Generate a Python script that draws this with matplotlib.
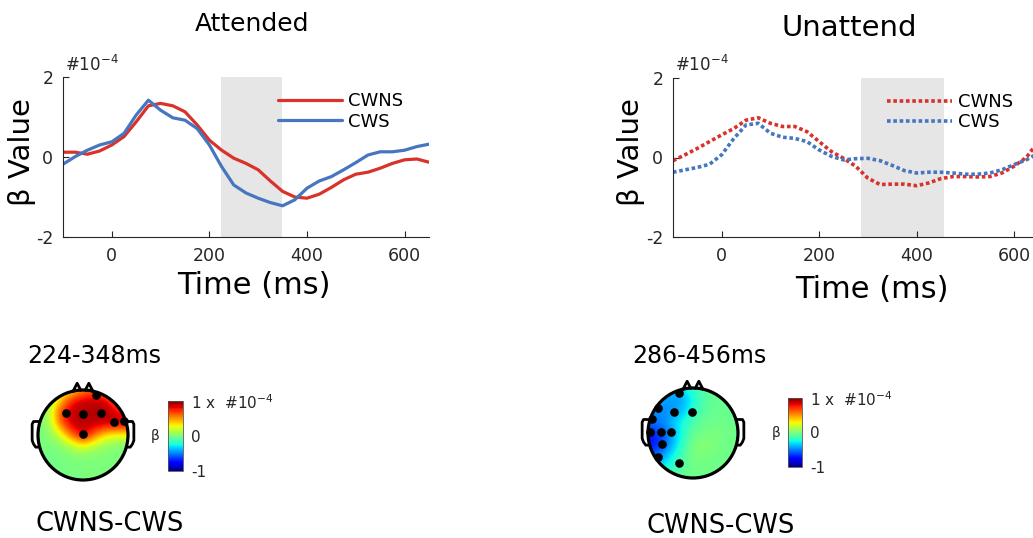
import matplotlib

matplotlib.use("Agg")
import matplotlib.pyplot as plt
import numpy as np
from matplotlib.cm import ScalarMappable
from matplotlib.colors import Normalize
from matplotlib.patches import Circle

W, H = 1033, 538

# time axis (ms) for the ERP-like traces
time_ms = [-100, -75, -50, -25, 0, 25, 50, 75, 100, 125, 150, 175, 200, 225, 250, 275, 300,
           325, 350, 375, 400, 425, 450, 475, 500, 525, 550, 575, 600, 625, 650]

att_cwns = [0.12, 0.12, 0.07, 0.15, 0.30, 0.51, 0.88, 1.28, 1.34, 1.28, 1.13, 0.80, 0.42, 0.17,
            -0.03, -0.16, -0.32, -0.60, -0.86, -1.00, -1.03, -0.93, -0.76, -0.57, -0.43, -0.38,
            -0.28, -0.16, -0.07, -0.05, -0.13]
att_cws = [-0.18, 0.01, 0.17, 0.30, 0.38, 0.59, 1.05, 1.42, 1.17, 0.98, 0.92, 0.71, 0.30, -0.24,
           -0.70, -0.90, -1.03, -1.14, -1.22, -1.07, -0.78, -0.60, -0.49, -0.32, -0.14, 0.05,
           0.13, 0.13, 0.17, 0.26, 0.32]

unatt_cwns = [-0.08, 0.07, 0.23, 0.40, 0.57, 0.73, 0.94, 1.00, 0.86, 0.78, 0.78, 0.65, 0.40, 0.15,
              -0.02, -0.22, -0.52, -0.68, -0.67, -0.67, -0.71, -0.64, -0.53, -0.48, -0.48, -0.49,
              -0.48, -0.39, -0.22, 0.00, 0.40]
unatt_cws = [-0.37, -0.31, -0.25, -0.17, 0.07, 0.48, 0.82, 0.86, 0.61, 0.51, 0.48, 0.40, 0.19, 0.03,
             -0.06, -0.03, -0.02, -0.08, -0.20, -0.33, -0.39, -0.37, -0.37, -0.39, -0.42, -0.42,
             -0.39, -0.31, -0.18, -0.06, 0.11]

att_window = (224, 348)
unatt_window = (286, 456)

# topography grids (rows front -> back, columns left -> right), units of 1e-4
topo_att = [
    [0.00, 0.02, 0.10, 0.30, 0.50, 0.60, 0.45, 0.25, 0.05],
    [0.00, 0.05, 0.40, 0.80, 0.90, 0.90, 0.90, 0.60, 0.30],
    [0.00, 0.10, 0.70, 0.90, 0.90, 0.90, 0.90, 0.85, 0.70],
    [0.00, 0.05, 0.60, 0.90, 0.90, 0.90, 0.90, 0.90, 0.90],
    [0.00, 0.00, 0.20, 0.60, 0.90, 0.60, 0.30, 0.25, 0.25],
    [0.00, 0.00, 0.00, 0.10, 0.25, 0.10, 0.05, 0.00, 0.00],
    [-0.03, -0.03, 0.00, 0.00, 0.00, 0.00, 0.00, 0.00, 0.00],
    [-0.03, -0.03, -0.03, 0.00, 0.00, 0.00, 0.00, 0.00, 0.00],
    [0.00, 0.00, 0.00, 0.00, 0.00, 0.00, 0.00, 0.00, 0.00],
]
topo_unatt = [
    [-0.30, -0.30, -0.35, -0.30, -0.15, -0.08, -0.05, -0.05, -0.05],
    [-0.35, -0.40, -0.45, -0.45, -0.25, -0.10, -0.05, -0.05, -0.05],
    [-0.45, -0.50, -0.45, -0.40, -0.20, -0.08, -0.05, -0.05, -0.05],
    [-0.50, -0.50, -0.40, -0.25, -0.12, -0.05, -0.03, -0.03, -0.05],
    [-0.70, -0.65, -0.45, -0.25, -0.05, -0.02, 0.00, -0.03, -0.03],
    [-0.75, -0.70, -0.45, -0.20, 0.00, 0.03, 0.00, -0.03, -0.03],
    [-0.60, -0.50, -0.30, -0.12, 0.00, 0.00, -0.03, -0.03, -0.03],
    [-0.40, -0.30, -0.20, -0.08, -0.03, -0.03, -0.03, -0.03, -0.03],
    [-0.30, -0.20, -0.12, -0.05, -0.03, -0.03, -0.03, -0.03, -0.03],
]

# significant electrodes (head coords, nose up)
elec_att_x = [0.29, -0.38, 0.00, 0.40, 0.69, 0.91, 0.00]
elec_att_y = [0.89, 0.49, 0.47, 0.49, 0.29, 0.31, 0.02]
elec_unatt_x = [-0.31, -0.78, -0.42, -0.02, -0.91, -0.96, -0.71, -0.49, -0.69, -0.78, -0.31]
elec_unatt_y = [0.89, 0.56, 0.47, 0.47, 0.31, 0.02, 0.02, 0.02, -0.24, -0.53, -0.67]

RED = "#d8322a"
BLUE = "#4676bf"
GREY = "#262626"

plt.rcParams["axes.unicode_minus"] = False
plt.rcParams["font.family"] = "DejaVu Sans"


def px_rect(left, top, right, bottom):
    return [left / W, 1 - bottom / H, (right - left) / W, (bottom - top) / H]


def fx(x):
    return x / W


def fy(y):
    return 1 - y / H


def erp_panel(fig, rect, window, cwns, cws, dotted):
    ax = fig.add_axes(rect)
    ax.axvspan(window[0], window[1], color="#e6e6e6", lw=0, zorder=0)
    kw = dict(lw=2.3, solid_capstyle="round", solid_joinstyle="round")
    if dotted:
        kw = dict(lw=2.6, dashes=(1, 0.75), dash_capstyle="butt")
    ax.plot(time_ms, cwns, color=RED, label="CWNS", **kw)
    ax.plot(time_ms, cws, color=BLUE, label="CWS", **kw)
    ax.set_xlim(-100, 650)
    ax.set_ylim(-2, 2)
    ax.set_xticks([0, 200, 400, 600])
    ax.set_yticks([-2, 0, 2])
    ax.set_yticklabels(["-2", "0", "2"])
    for s in ("top", "right"):
        ax.spines[s].set_visible(False)
    for s in ("left", "bottom"):
        ax.spines[s].set_color(GREY)
        ax.spines[s].set_linewidth(0.8)
    ax.tick_params(direction="in", length=4, width=0.8, colors=GREY, labelsize=12.5, pad=7)
    ax.legend(loc="center left", bbox_to_anchor=(0.587, 0.784), frameon=False,
              fontsize=13, handlelength=3.55, handletextpad=0.35, labelspacing=0.12,
              borderpad=0, borderaxespad=0)
    return ax


def topo_panel(fig, cx, cy, grid, ex, ey):
    r = 45 * 1.3
    ax = fig.add_axes(px_rect(cx - r, cy - r, cx + r, cy + r))
    ax.set_xlim(-1.3, 1.3)
    ax.set_ylim(-1.3, 1.3)
    ax.set_aspect("equal")
    ax.axis("off")
    n = len(grid)
    half = 1 + 1 / (n - 1)
    im = ax.imshow(np.array(grid), extent=(-half, half, -half, half), cmap="jet",
                   vmin=-1, vmax=1, interpolation="bicubic", origin="upper")
    im.set_clip_path(Circle((0, 0), 1, transform=ax.transData))
    ax.add_patch(Circle((0, 0), 1, fill=False, lw=2.3, ec="black", zorder=3))
    # nose
    ax.plot([-0.22, -0.13, -0.05], [0.975, 1.15, 0.995], color="black", lw=2, zorder=3)
    ax.plot([0.05, 0.13, 0.22], [0.995, 1.15, 0.975], color="black", lw=2, zorder=3)
    # ears
    ear_x = [0.98, 1.1, 1.13, 1.13, 1.1, 1.05, 0.99]
    ear_y = [0.3, 0.3, 0.24, -0.12, -0.2, -0.27, -0.27]
    ax.plot([-v for v in ear_x], ear_y, color="black", lw=2, zorder=3)
    ax.plot(ear_x, ear_y, color="black", lw=2, zorder=3)
    ax.plot(ex, ey, "o", ms=5.2, color="black", zorder=4)
    return ax


def colorbar_panel(fig, rect):
    cax = fig.add_axes(rect)
    cb = fig.colorbar(ScalarMappable(Normalize(-1, 1), cmap="jet"), cax=cax)
    cb.set_ticks([-1, 0, 1])
    cb.set_ticklabels(["-1", "0", "1 x  #10$^{-4}$"])
    cb.outline.set_linewidth(0.6)
    cb.outline.set_edgecolor("#555555")
    cax.tick_params(length=0, labelsize=11, pad=6, colors=GREY)
    cax.text(-0.55, 0.5, "β", transform=cax.transAxes, ha="right", va="center",
             fontsize=10, color=GREY)


fig = plt.figure(figsize=(W / 100, H / 100), dpi=100)

erp_panel(fig, px_rect(63, 77, 429, 237), att_window, att_cwns, att_cws, False)
erp_panel(fig, px_rect(673, 78, 1038.4, 237), unatt_window, unatt_cwns, unatt_cws, True)

fig.text(fx(252), fy(24), "Attended", ha="center", va="center", fontsize=18)
fig.text(fx(849), fy(28), "Unattend", ha="center", va="center", fontsize=21)
for x0, xc in ((65, 22), (675, 631)):
    fig.text(fx(x0), fy(71), "#10$^{-4}$", ha="left", va="baseline", fontsize=12, color=GREY)
    fig.text(fx(xc), fy(152), "β Value", ha="center", va="center", rotation=90, fontsize=21)
fig.text(fx(254), fy(285), "Time (ms)", ha="center", va="center", fontsize=22)
fig.text(fx(872), fy(289), "Time (ms)", ha="center", va="center", fontsize=22)

topo_panel(fig, 83, 435, topo_att, elec_att_x, elec_att_y)
topo_panel(fig, 693, 433, topo_unatt, elec_unatt_x, elec_unatt_y)
colorbar_panel(fig, px_rect(168, 401, 183, 471))
colorbar_panel(fig, px_rect(788, 398, 802, 467))

fig.text(fx(94), fy(356), "224-348ms", ha="center", va="center", fontsize=17)
fig.text(fx(699), fy(356), "286-456ms", ha="center", va="center", fontsize=17)
fig.text(fx(110), fy(524), "CWNS-CWS", ha="center", va="center", fontsize=18.5)
fig.text(fx(721), fy(526), "CWNS-CWS", ha="center", va="center", fontsize=18.5)

fig.savefig("out.png", dpi=100)
